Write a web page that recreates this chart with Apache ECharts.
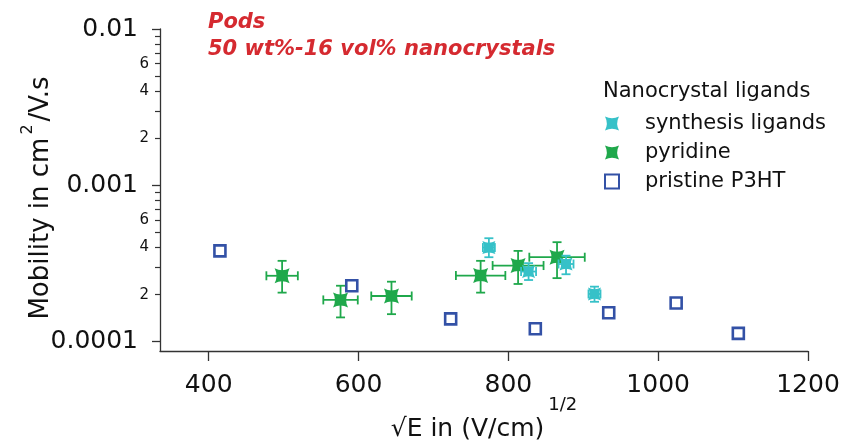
<!DOCTYPE html>
<html>
<head>
<meta charset="utf-8">
<script src="https://cdn.jsdelivr.net/npm/echarts@6/dist/echarts.min.js"></script>
<style>html,body{margin:0;padding:0;background:#fff}#c{width:845px;height:443px}</style>
</head>
<body>
<div id="c"></div>
<script>
// Pristine P3HT
const p3X = [415, 591, 723, 836, 934, 1024, 1107];
const p3Y = [3.81e-4, 2.28e-4, 1.40e-4, 1.21e-4, 1.53e-4, 1.77e-4, 1.13e-4];
// pyridine
const pyrX = [498, 576, 644, 763, 813, 865];
const pyrY = [2.64e-4, 1.85e-4, 1.96e-4, 2.65e-4, 3.07e-4, 3.47e-4];
const pyrXErr = [21, 23, 27, 33, 34, 37];
const pyrYLow = [2.06e-4, 1.43e-4, 1.50e-4, 2.06e-4, 2.34e-4, 2.55e-4];
const pyrYHigh = [3.29e-4, 2.28e-4, 2.42e-4, 3.29e-4, 3.81e-4, 4.33e-4];
// synthesis ligands
const synX = [774, 827, 877, 915];
const synY = [4.0e-4, 2.81e-4, 3.14e-4, 2.02e-4];
const synXErr = [8, 10, 10, 8];
const synYLow = [3.47e-4, 2.48e-4, 2.70e-4, 1.80e-4];
const synYHigh = [4.59e-4, 3.18e-4, 3.55e-4, 2.25e-4];
// axis ticks
const xTicks = [400, 600, 800, 1000, 1200];
const yMajor = [1e-4, 1e-3, 1e-2];
const yMajorLabels = ['0.0001', '0.001', '0.01'];
const yMinor = [2e-4,3e-4,4e-4,5e-4,6e-4,7e-4,8e-4,9e-4,2e-3,3e-3,4e-3,5e-3,6e-3,7e-3,8e-3,9e-3];
const yMinorLabeled = [2e-4,4e-4,6e-4,2e-3,4e-3,6e-3];

const FONT = 'DejaVu Sans';
const CYAN = '#36c1c8', GREEN = '#1fa84b', BLUE = '#3351a6', RED = '#d52a30';
const STAR = 'path://M0,0 Q5,2.6 10,0 Q7.4,5 10,10 Q5,7.4 0,10 Q2.6,5 0,0 Z';

function errData(xs, ys, xe, yl, yh) {
  return xs.map((x, i) => [x, ys[i], xe[i], yl[i], yh[i]]);
}
function errRender(color) {
  return function (params, api) {
    const x = api.value(0), y = api.value(1), xe = api.value(2), yl = api.value(3), yh = api.value(4);
    const l = api.coord([x - xe, y]), r = api.coord([x + xe, y]);
    const t = api.coord([x, yh]), b = api.coord([x, yl]);
    const c = 4.5;
    const st = { stroke: color, lineWidth: 1.8 };
    const line = (x1, y1, x2, y2) => ({ type: 'line', shape: { x1, y1, x2, y2 }, style: st });
    return { type: 'group', children: [
      line(l[0], l[1], r[0], r[1]),
      line(l[0], l[1] - c, l[0], l[1] + c),
      line(r[0], r[1] - c, r[0], r[1] + c),
      line(t[0], t[1], b[0], b[1]),
      line(t[0] - c, t[1], t[0] + c, t[1]),
      line(b[0] - c, b[1], b[0] + c, b[1])
    ]};
  };
}
const fmtMinor = v => String(Math.round(v / Math.pow(10, Math.floor(Math.log10(v) + 1e-9))));

const chart = echarts.init(document.getElementById('c'), null, { renderer: 'canvas' });
chart.setOption({
  animation: false,
  backgroundColor: '#fff',
  title: [
    { text: 'Pods\n50 wt%-16 vol% nanocrystals', left: 203, top: 4,
      textStyle: { color: RED, fontFamily: FONT, fontStyle: 'italic', fontWeight: 'bold', fontSize: 21, lineHeight: 27 } },
    { text: 'Nanocrystal ligands', left: 598, top: 76,
      textStyle: { color: '#111', fontFamily: FONT, fontWeight: 'normal', fontSize: 21 } }
  ],
  legend: {
    data: ['synthesis ligands', 'pyridine', 'pristine P3HT'],
    orient: 'vertical', left: 599, top: 108, itemGap: 8, itemWidth: 14, itemHeight: 14,
    textStyle: { fontFamily: FONT, fontSize: 21, color: '#111', padding: [0, 0, 0, 21] }
  },
  grid: { left: 160, right: 37, top: 29, bottom: 92, containLabel: false, outerBoundsMode: 'none' },
  xAxis: {
    type: 'value', min: 335, max: 1200,
    axisLine: { show: true, lineStyle: { color: '#333', width: 1.3 } },
    axisTick: { show: true, length: 10, lineStyle: { color: '#333', width: 1.3 }, customValues: xTicks },
    axisLabel: { customValues: xTicks, fontFamily: FONT, fontSize: 25, color: '#111', margin: 22,
      formatter: v => String(v) },
    splitLine: { show: false },
    name: '{m|√E in (V/cm)}{s|1/2}', nameLocation: 'middle', nameGap: 45, nameMoveOverlap: false,
    nameTextStyle: { rich: {
      m: { fontFamily: FONT, fontSize: 25, color: '#111', lineHeight: 46, verticalAlign: 'bottom' },
      s: { fontFamily: FONT, fontSize: 18, color: '#111', lineHeight: 46, verticalAlign: 'top', padding: [0, 0, 0, 4] }
    } }
  },
  yAxis: [
    {
      type: 'log', min: 8.72e-5, max: 0.01, logBase: 10,
      axisLine: { show: true, lineStyle: { color: '#333', width: 1.3 } },
      axisTick: { show: true, length: 8, lineStyle: { color: '#333', width: 1.3 }, customValues: yMajor },
      axisLabel: { customValues: yMajor, fontFamily: FONT, fontSize: 25, color: '#111', margin: 22,
        formatter: v => yMajorLabels[yMajor.findIndex(m => Math.abs(m - v) / m < 1e-6)] || '' },
      splitLine: { show: false }, minorTick: { show: false },
      name: '{m|Mobility in cm}{s|2}{e|/V.s}', nameLocation: 'middle', nameGap: 106, nameRotate: 90, nameMoveOverlap: false,
      nameTextStyle: { rich: {
        m: { fontFamily: FONT, fontSize: 26, color: '#111', lineHeight: 34, verticalAlign: 'bottom' },
        s: { fontFamily: FONT, fontSize: 16, color: '#111', lineHeight: 34, verticalAlign: 'top', padding: [0, 3, 0, 3] },
        e: { fontFamily: FONT, fontSize: 26, color: '#111', lineHeight: 34, verticalAlign: 'bottom', padding: [0, 16, 0, 0] }
      } }
    },
    {
      type: 'log', min: 8.72e-5, max: 0.01, logBase: 10, position: 'left',
      axisLine: { show: false },
      axisTick: { show: true, length: 5, lineStyle: { color: '#333', width: 1.2 }, customValues: yMinor },
      axisLabel: { customValues: yMinorLabeled, fontFamily: FONT, fontSize: 15, color: '#111', margin: 11,
        formatter: v => fmtMinor(v) },
      splitLine: { show: false }
    }
  ],
  series: [
    { type: 'custom', name: 'pyrErr', renderItem: errRender(GREEN), data: errData(pyrX, pyrY, pyrXErr, pyrYLow, pyrYHigh),
      encode: { x: 0, y: 1 }, z: 1, silent: true },
    { type: 'scatter', name: 'pyridine', data: pyrX.map((x, i) => [x, pyrY[i]]), symbol: STAR, symbolSize: 15,
      itemStyle: { color: GREEN, opacity: 1 }, z: 2 },
    { type: 'custom', name: 'synErr', renderItem: errRender(CYAN), data: errData(synX, synY, synXErr, synYLow, synYHigh),
      encode: { x: 0, y: 1 }, z: 3, silent: true },
    { type: 'scatter', name: 'synthesis ligands', data: synX.map((x, i) => [x, synY[i]]), symbol: STAR, symbolSize: 13,
      itemStyle: { color: CYAN, opacity: 1 }, z: 4 },
    { type: 'scatter', name: 'pristine P3HT', data: p3X.map((x, i) => [x, p3Y[i]]), symbol: 'rect', symbolSize: 11,
      itemStyle: { color: '#fff', borderColor: BLUE, borderWidth: 2.6, opacity: 1 }, z: 5 }
  ]
});
</script>
</body>
</html>
